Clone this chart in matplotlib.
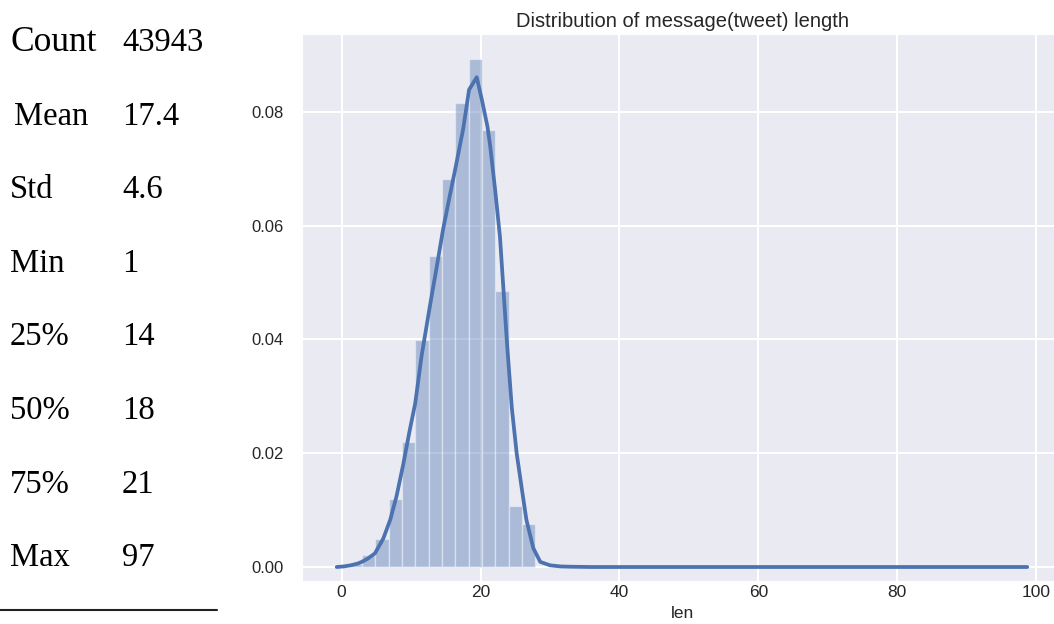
import numpy as np
import matplotlib
matplotlib.use("Agg")
import matplotlib.pyplot as plt
import seaborn as sns

# summary statistics of tweet length
stat_names = ["Count", "Mean", "Std", "Min", "25%", "50%", "75%", "Max"]
stat_values = ["43943", "17.4", "4.6", "1", "14", "18", "21", "97"]

# histogram: 50 bins between min (1) and max (97), normalised density
len_min, len_max, n_bins = 1, 97, 50
hist_density = [0.0005, 0.0021, 0.0050, 0.0119, 0.0219, 0.0399, 0.0546,
                0.0682, 0.0815, 0.0893, 0.0768, 0.0486, 0.0107, 0.0076]

# kernel density estimate of the same column
kde_x = [-0.7, 0.3, 1.3, 2.3, 2.9, 3.8, 4.8, 6.0, 7.0, 7.9, 8.9, 9.8, 10.6,
         11.5, 12.7, 13.7, 14.6, 15.5, 16.5, 17.5, 18.35, 19.45, 20.2, 21.0,
         21.4, 22.1, 22.8, 23.8, 24.5, 25.2, 25.9, 26.6, 27.6, 28.6, 30.0,
         31.5, 33.0, 36.0, 98.7]
kde_y = [0.0, 0.0001, 0.0003, 0.0006, 0.0009, 0.0015, 0.0024, 0.0050, 0.0083,
         0.0124, 0.0182, 0.0240, 0.0288, 0.0370, 0.0458, 0.0528, 0.0593,
         0.0648, 0.0708, 0.0770, 0.0839, 0.0861, 0.0821, 0.0774, 0.0739,
         0.0663, 0.0580, 0.0395, 0.0280, 0.0200, 0.0141, 0.0083, 0.0033,
         0.0009, 0.0003, 0.0001, 0.00005, 0.0, 0.0]

sns.set_style("darkgrid")
plt.rcParams["font.family"] = ["Liberation Sans", "DejaVu Sans"]

W, H = 1054, 624
fig = plt.figure(figsize=(W / 100, H / 100), dpi=100)

# left-hand table of statistics
row_base = [51, 125, 198, 272, 345, 419, 493, 566]
name_x = [10, 14, 10, 10, 10, 10, 10, 10]
for name, val, yb, nx in zip(stat_names, stat_values, row_base, name_x):
    size = 25.5 if name == "Count" else 23.5
    fig.text(nx / W, 1 - yb / H, name, fontsize=size, family="Liberation Serif",
             va="baseline", ha="left", color="black")
    fig.text(122 / W, 1 - yb / H, val, fontsize=23.5, family="Liberation Serif",
             va="baseline", ha="left", color="black")
fig.add_artist(plt.Line2D([0, 217 / W], [1 - 610 / H, 1 - 610 / H],
                          color="#222222", lw=1.5))

# histogram + kde panel
ax = fig.add_axes([302 / W, 1 - 581 / H, 760 / W, 547 / H])
edges = np.linspace(len_min, len_max, n_bins + 1)
bw = edges[1] - edges[0]
ax.bar(edges[:len(hist_density)], hist_density, width=bw, align="edge",
       color="#4C72B0", alpha=0.4, edgecolor="white", linewidth=1)
ax.plot(kde_x, kde_y, color="#4C72B0", lw=2.7)

ax.set_xlim(-5.7, 103.7)
ax.set_ylim(-0.00246, 0.0937)
ax.set_xticks([0, 20, 40, 60, 80, 100])
ax.set_yticks([0.0, 0.02, 0.04, 0.06, 0.08])
ax.set_yticklabels(["0.00", "0.02", "0.04", "0.06", "0.08"])
ax.tick_params(axis="y", length=0, pad=13.5, labelsize=12, colors="#262626")
ax.tick_params(axis="x", length=0, pad=3, labelsize=12.5, colors="#262626")
ax.grid(True, color="white", lw=1.5)
ax.set_xlabel("len", fontsize=12.5, color="#262626", labelpad=4)
ax.set_title("Distribution of message(tweet) length", fontsize=14.5,
             color="#262626", pad=5)

fig.savefig("out.png", dpi=100)
